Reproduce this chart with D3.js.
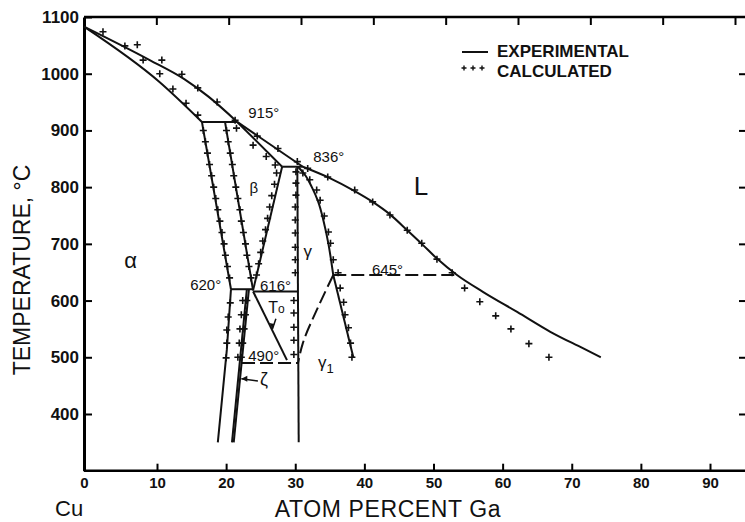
<!DOCTYPE html>
<html>
<head>
<meta charset="utf-8">
<script src="https://cdn.jsdelivr.net/npm/d3@7"></script>
<style>
  body { margin: 0; background: #fff; }
  svg text { font-family: "Liberation Sans", Arial, sans-serif; fill: #111; }
</style>
</head>
<body>
<svg id="chart" width="745" height="522"></svg>
<script>
// tick values
const xTicks = [0, 10, 20, 30, 40, 50, 60, 70, 80, 90];
const yTicks = [400, 500, 600, 700, 800, 900, 1000, 1100];

// experimental boundaries, [atom % Ga, temperature °C]
const alphaSolidus = [[0, 1083], [10.4, 985], [16.5, 915]];
const liquidusA = [[0, 1083], [9.0, 1024], [14.0, 990], [17.4, 960], [21.6, 915]];
const liquidusB = [[21.6, 915], [31.1, 836]];
const liquidusC = [[31.1, 836], [35.0, 816], [38.6, 793], [41.2, 774], [43.7, 752], [46.2, 724], [48.3, 700],
  [50.5, 674], [53.4, 645], [57.2, 615], [62.1, 580], [66.9, 545], [71.6, 516], [74.2, 500]];
const peritectic915 = [[16.5, 915], [21.6, 915]];
const alphaUpper = [[16.5, 915], [20.7, 620]];
const alphaLower = [[20.7, 620], [20.1, 513], [18.8, 350]];
const betaLeft = [[19.84, 915], [23.9, 618]];
const betaRight = [[28.1, 836], [23.9, 618]];
const betaSolidus = [[21.6, 915], [28.1, 836]];
const peritectic836 = [[28.1, 836], [31.1, 836]];
const gammaLeft = [[30.3, 836], [30.5, 350]];
const gammaRight = [[30.4, 836], [31.5, 820], [32.4, 800], [33.3, 775], [34.1, 740], [34.8, 700], [35.2, 670], [35.5, 645]];
const gamma1Right = [[35.5, 645], [38.4, 500]];
const eutectoid620 = [[20.7, 620], [23.9, 620]];
const eutectoid616 = [[23.9, 616], [30.3, 616]];
const zetaLeft = [[23.0, 620], [20.85, 350]];
const zetaRight = [[23.3, 620], [21.1, 350]];
const t0Line = [[23.9, 616], [28.8, 495]];
// dashed boundaries
const peritectic645 = [[35.5, 645], [53.4, 645]];
const gammaGamma1 = [[35.5, 645], [33.1, 583], [31.1, 525], [30.4, 490]];
const line490 = [[22.3, 490], [30.4, 490]];

// calculated points
const calcLiquidus = [[2.6, 1074], [7.3, 1051], [10.7, 1024], [13.6, 999], [15.9, 975], [18.7, 950], [21.3, 918],
  [24.5, 890], [27.5, 868], [30.3, 845], [31.8, 833], [34.7, 818], [38.6, 795], [41.2, 774], [43.7, 751],
  [46.2, 724], [48.3, 701], [50.5, 673], [52.7, 649], [54.5, 622], [56.7, 598], [59.0, 573], [61.2, 550],
  [63.8, 524], [66.7, 500]];
const calcSolidus = [[5.6, 1049], [8.1, 1024], [10.4, 1000], [12.3, 973], [14.2, 948], [15.9, 927]];
const calcAlpha = [[16.7, 900], [17.0, 880], [17.3, 860], [17.6, 840], [17.9, 820], [18.2, 800], [18.5, 780],
  [18.8, 760], [19.1, 740], [19.4, 720], [19.7, 700], [19.9, 680], [20.2, 660], [20.5, 640]];
const calcAlphaLow = [[20.6, 596], [20.3, 571], [20.1, 548], [20.1, 525], [20.0, 499]];
const calcZeta1 = [[22.4, 600], [22.2, 575], [22.0, 550], [21.9, 525], [21.7, 500]];
const calcZeta2 = [[23.0, 600], [22.8, 575], [22.6, 550], [22.4, 525], [22.2, 500]];
const calcBetaLeft = [[20.05, 900], [20.3, 880], [20.6, 860], [20.9, 840], [21.1, 820], [21.4, 800], [21.7, 780],
  [22.0, 760], [22.2, 740], [22.5, 720], [22.8, 700], [23.0, 680], [23.3, 660], [23.6, 640]];
const calcBetaRight = [[27.3, 825], [27.0, 805], [26.6, 785], [26.3, 765], [26.0, 745], [25.7, 725], [25.3, 705],
  [25.0, 685], [24.7, 665], [24.4, 645]];
const calcBetaSolidus = [[21.5, 904], [23.9, 874], [25.8, 854], [27.1, 839]];
const calcGammaLeft = [[30.1, 827], [30.1, 807], [30.1, 786], [30.0, 765], [30.0, 742], [30.0, 719], [30.0, 694],
  [30.0, 672], [30.0, 649], [29.8, 600], [29.8, 578], [29.8, 553], [29.8, 530], [29.8, 505]];
const calcGammaRight = [[31.1, 825], [32.1, 813], [33.1, 795], [33.6, 777], [34.2, 749], [34.8, 721], [35.1, 701],
  [35.5, 672], [36.2, 649]];
const calcGamma1 = [[36.5, 622], [37.0, 597], [37.2, 575], [37.7, 552], [38.0, 525], [38.2, 500]];

const svg = d3.select("#chart");

const x = d3.scaleLinear().domain([0, 10, 90, 95]).range([84, 157, 710, 744.6]);
const xTop = d3.scaleLinear().domain([0, 90]).range([84, 735]);
const y = d3.scaleLinear().domain([300, 1100]).range([470.7, 17]);

// frame and axes
const axisB = svg.append("g")
  .attr("transform", `translate(0,${y(300)})`)
  .call(d3.axisBottom(x).tickValues(xTicks).tickSizeInner(-7).tickSizeOuter(0).tickPadding(7));
axisB.select(".domain").attr("stroke-width", 2.5).attr("d", `M${x(0)},0H745`);
axisB.selectAll(".tick line").attr("stroke-width", 2);
axisB.selectAll("text").attr("font-size", 15).attr("font-weight", "bold");

const axisL = svg.append("g")
  .attr("transform", `translate(${x(0)},0)`)
  .call(d3.axisLeft(y).tickValues(yTicks).tickFormat(d3.format("d"))
    .tickSizeInner(-8).tickSizeOuter(0).tickPadding(5));
axisL.select(".domain").attr("stroke-width", 3);
axisL.selectAll(".tick line").attr("stroke-width", 2);
axisL.selectAll("text").attr("font-size", 17).attr("font-weight", "bold");

const axisT = svg.append("g")
  .attr("transform", `translate(0,${y(1100)})`)
  .call(d3.axisTop(xTop).tickValues(xTicks.slice(1)).tickSizeInner(-8).tickSizeOuter(0).tickFormat(""));
axisT.select(".domain").attr("stroke-width", 2.5).attr("d", `M${x(0)},0H745`);
axisT.selectAll(".tick line").attr("stroke-width", 2);

// right frame sits just past the picture edge; only its ticks show
const axisR = svg.append("g")
  .attr("transform", `translate(747,0)`)
  .call(d3.axisRight(y).tickValues(yTicks.slice(0, -1)).tickSizeInner(-8).tickSizeOuter(0).tickFormat(""));
axisR.select(".domain").attr("stroke-width", 2.5);
axisR.selectAll(".tick line").attr("stroke-width", 2);

// boundary lines
const straight = d3.line().x(d => x(d[0])).y(d => y(d[1]));
const smoothX = d3.line().x(d => x(d[0])).y(d => y(d[1])).curve(d3.curveMonotoneX);
const smoothY = d3.line().x(d => x(d[0])).y(d => y(d[1])).curve(d3.curveMonotoneY);

const lines = svg.append("g").attr("fill", "none").attr("stroke", "#111").attr("stroke-width", 2);
[alphaSolidus, liquidusA, liquidusC].forEach(d => lines.append("path").attr("d", smoothX(d)));
[gammaRight].forEach(d => lines.append("path").attr("d", smoothY(d)));
[liquidusB, peritectic915, alphaUpper, alphaLower, betaLeft, betaRight, betaSolidus, peritectic836,
  gammaLeft, gamma1Right, eutectoid620, eutectoid616, zetaLeft, zetaRight, t0Line]
  .forEach(d => lines.append("path").attr("d", straight(d)));
[peritectic645, line490].forEach(d => lines.append("path").attr("d", straight(d)).attr("stroke-dasharray", "13,5"));
lines.append("path").attr("d", smoothY(gammaGamma1)).attr("stroke-dasharray", "13,5");

// calculated crosses
const calcAll = [calcLiquidus, calcSolidus, calcAlpha, calcAlphaLow, calcZeta1, calcZeta2, calcBetaLeft,
  calcBetaRight, calcBetaSolidus, calcGammaLeft, calcGammaRight, calcGamma1].flat();
svg.append("g").selectAll("path").data(calcAll).join("path")
  .attr("d", "M-3.5,0H3.5M0,-3.5V3.5")
  .attr("transform", d => `translate(${x(d[0])},${y(d[1])})`)
  .attr("stroke", "#111").attr("stroke-width", 1.6).attr("fill", "none");

// annotations
const ann = svg.append("g");
function label(px, py, txt, size, opts = {}) {
  const t = ann.append("text").attr("x", px).attr("y", py).attr("font-size", size).text(txt);
  if (opts.anchor) t.attr("text-anchor", opts.anchor);
  if (opts.weight) t.attr("font-weight", opts.weight);
  return t;
}
label(x(23.2), y(922), "915°", 15);
label(x(32.6), y(844), "836°", 15);
label(x(14.8), y(619), "620°", 15);
label(x(24.9), y(617), "616°", 15);
label(x(41.1), y(645), "645°", 15);
label(x(23.2), y(493), "490°", 15);
label(x(24.0), y(790), "β", 15, { anchor: "middle" });
label(x(31.8), y(677), "γ", 17, { anchor: "middle" });
const g1 = label(x(33.3), y(481), "γ", 17);
g1.append("tspan").attr("font-size", 13).attr("dy", 5).text("1");
label(x(24.9), y(451), "ζ", 18);
label(x(48.2), y(786), "L", 26, { anchor: "middle" });
label(x(6.4), y(657), "α", 22, { anchor: "middle" });
const t0 = label(x(26.1), y(578), "T", 16);
t0.append("tspan").attr("font-size", 12).text("o");

// small arrows for T0 and zeta
ann.append("path")
  .attr("d", `M${x(27.2)},${y(568)}L${x(26.7)},${y(550)}`)
  .attr("stroke", "#111").attr("stroke-width", 1.5);
ann.append("path")
  .attr("d", `M${x(26.7)},${y(550)}l-3,-6l5,1z`)
  .attr("fill", "#111");
ann.append("path")
  .attr("d", `M${x(24.6)},${y(458)}L${x(22.2)},${y(462)}`)
  .attr("stroke", "#111").attr("stroke-width", 1.5);
ann.append("path")
  .attr("d", `M${x(22.2)},${y(462)}l6,-3l0,6z`)
  .attr("fill", "#111");

// legend
const leg = svg.append("g");
leg.append("line").attr("x1", 462).attr("x2", 488).attr("y1", 52).attr("y2", 52)
  .attr("stroke", "#111").attr("stroke-width", 2);
[464, 473, 482].forEach(cx => leg.append("path")
  .attr("d", "M-2.5,0H2.5M0,-2.5V2.5")
  .attr("transform", `translate(${cx},68)`)
  .attr("stroke", "#111").attr("stroke-width", 1.4));
label(497, 57, "EXPERIMENTAL", 17, { weight: "bold" });
label(497, 77, "CALCULATED", 17, { weight: "bold" });

// axis titles
svg.append("text").attr("x", 388).attr("y", 517).attr("text-anchor", "middle")
  .attr("font-size", 23).attr("letter-spacing", 0.6).text("ATOM PERCENT Ga");
svg.append("text").attr("transform", "translate(30,270) rotate(-90)").attr("text-anchor", "middle")
  .attr("font-size", 23).text("TEMPERATURE, °C");
svg.append("text").attr("x", 55).attr("y", 516).attr("font-size", 22).text("Cu");
</script>
</body>
</html>
